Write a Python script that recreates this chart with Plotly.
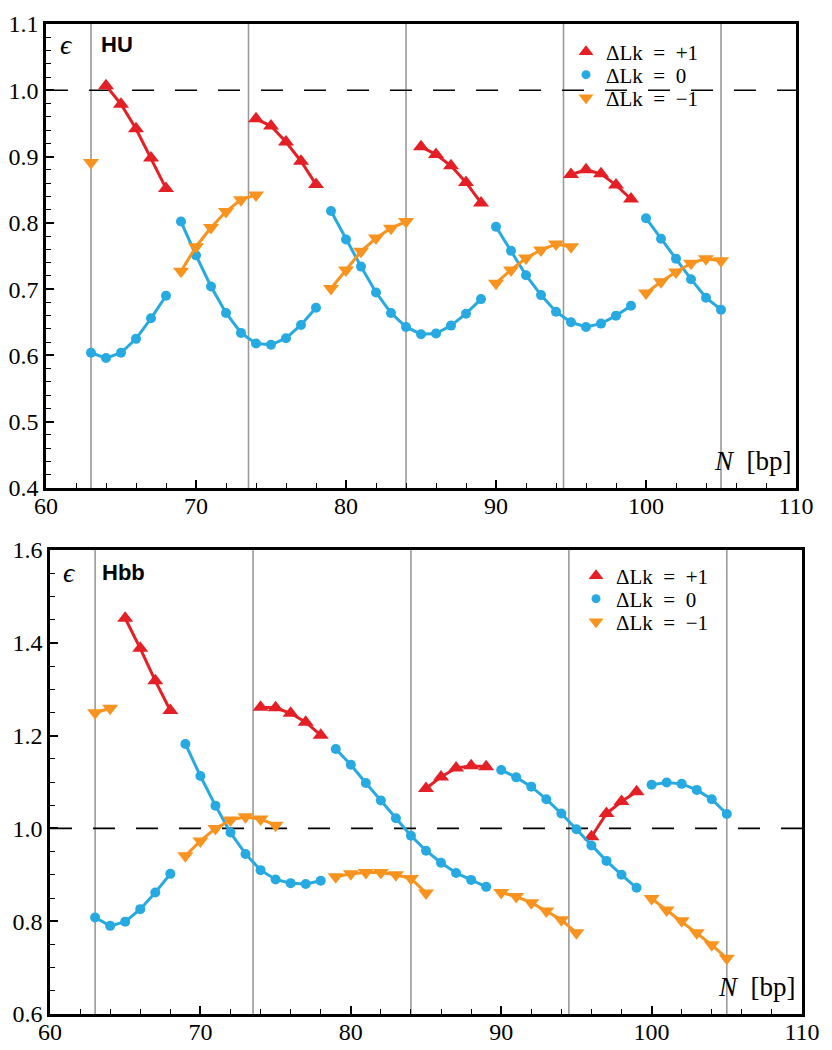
import plotly.graph_objects as go

# ---------------- data ----------------
helix_repeats = [63, 73.5, 84, 94.5, 105]
reference_level = 1.0

# HU panel
hu_plus_x = [64, 65, 66, 67, 68, None, 74, 75, 76, 77, 78, None, 85, 86, 87, 88, 89, None, 95, 96, 97, 98, 99]
hu_plus_y = [1.007, 0.979, 0.942, 0.898, 0.852, None, 0.957, 0.946, 0.922, 0.893, 0.858, None,
             0.915, 0.903, 0.886, 0.861, 0.830, None, 0.873, 0.880, 0.874, 0.857, 0.836]

hu_zero_x = [63, 64, 65, 66, 67, 68, None,
             69, 70, 71, 72, 73, 74, 75, 76, 77, 78, None,
             79, 80, 81, 82, 83, 84, 85, 86, 87, 88, 89, None,
             90, 91, 92, 93, 94, 95, 96, 97, 98, 99, None,
             100, 101, 102, 103, 104, 105]
hu_zero_y = [0.604, 0.596, 0.604, 0.625, 0.656, 0.690, None,
             0.802, 0.751, 0.704, 0.664, 0.634, 0.618, 0.616, 0.626, 0.646, 0.672, None,
             0.818, 0.775, 0.734, 0.695, 0.664, 0.643, 0.632, 0.633, 0.645, 0.663, 0.685, None,
             0.794, 0.758, 0.721, 0.691, 0.666, 0.650, 0.643, 0.648, 0.660, 0.675, None,
             0.807, 0.776, 0.746, 0.715, 0.687, 0.669]

hu_minus_x = [63, None, 69, 70, 71, 72, 73, 74, None, 79, 80, 81, 82, 83, 84, None,
              90, 91, 92, 93, 94, 95, None, 100, 101, 102, 103, 104, 105]
hu_minus_y = [0.891, None, 0.727, 0.764, 0.793, 0.817, 0.835, 0.842, None,
              0.701, 0.729, 0.757, 0.777, 0.792, 0.802, None,
              0.709, 0.729, 0.747, 0.759, 0.768, 0.764, None,
              0.694, 0.711, 0.726, 0.739, 0.746, 0.743]

# Hbb panel
hbb_plus_x = [65, 66, 67, 68, None, 74, 75, 76, 77, 78, None, 85, 86, 87, 88, 89, None, 96, 97, 98, 99]
hbb_plus_y = [1.453, 1.388, 1.318, 1.254, None, 1.261, 1.260, 1.248, 1.229, 1.201, None,
              1.086, 1.111, 1.130, 1.135, 1.133, None, 0.982, 1.032, 1.058, 1.079]

hbb_zero_x = hu_zero_x
hbb_zero_y = [0.808, 0.790, 0.799, 0.826, 0.862, 0.902, None,
              1.182, 1.113, 1.049, 0.991, 0.945, 0.910, 0.890, 0.882, 0.880, 0.887, None,
              1.171, 1.137, 1.098, 1.060, 1.022, 0.984, 0.952, 0.926, 0.904, 0.889, 0.874, None,
              1.126, 1.110, 1.090, 1.063, 1.032, 0.998, 0.963, 0.930, 0.900, 0.872, None,
              1.094, 1.099, 1.096, 1.083, 1.063, 1.031]

hbb_minus_x = [63, 64, None, 69, 70, 71, 72, 73, 74, 75, None, 79, 80, 81, 82, 83, 84, 85, None,
               90, 91, 92, 93, 94, 95, None, 100, 101, 102, 103, 104, 105]
hbb_minus_y = [1.249, 1.259, None, 0.941, 0.973, 1.000, 1.018, 1.025, 1.020, 1.007, None,
               0.896, 0.902, 0.905, 0.905, 0.900, 0.892, 0.861, None,
               0.862, 0.853, 0.840, 0.822, 0.803, 0.775, None,
               0.849, 0.824, 0.801, 0.775, 0.749, 0.720]

series_names = ["ΔLk\u2002=\u2002+1", "ΔLk\u2002=\u20020", "ΔLk\u2002=\u2002−1"]
x_ticks = [60, 70, 80, 90, 100, 110]

# ---------------- style ----------------
RED = "#e41f26"
BLUE = "#27a9e1"
ORANGE = "#f7931e"
SERIF = "Liberation Serif"
SANS = "Liberation Sans"
PAGE_W, PAGE_H = 832, 1050
OFF = 8                      # default page body margin
W, H = PAGE_W - 2 * OFF, PAGE_H - OFF

styles = [
    (RED, "triangle-up", 14),
    (BLUE, "circle", 10),
    (ORANGE, "triangle-down", 14),
]


def px_x(p):
    return (p - OFF) / W


def px_y(p):
    return 1 - (p - OFF) / H


fig = go.Figure()

# legend rows (page pixel positions of each legend entry)
legend_rows = {
    "top": (566, [52, 75, 98]),
    "bottom": (576, [576, 599, 622]),
}

panels = [
    ("x", "y", ["legend", "legend2", "legend3"], "top",
     [(hu_plus_x, hu_plus_y), (hu_zero_x, hu_zero_y), (hu_minus_x, hu_minus_y)]),
    ("x2", "y2", ["legend4", "legend5", "legend6"], "bottom",
     [(hbb_plus_x, hbb_plus_y), (hbb_zero_x, hbb_zero_y), (hbb_minus_x, hbb_minus_y)]),
]

legend_layout = {}
for xa, ya, lgs, key, data in panels:
    for (xs, ys), (col, sym, sz), name in zip(data, styles, series_names):
        fig.add_trace(go.Scatter(
            x=xs, y=ys, xaxis=xa, yaxis=ya, mode="lines+markers",
            line=dict(color=col, width=3), connectgaps=False,
            marker=dict(color=col, symbol=sym, size=sz, line=dict(width=0)),
            showlegend=False, hoverinfo="skip"))
    lx, lys = legend_rows[key]
    for (col, sym, sz), name, lg, ly in zip(styles, series_names, lgs, lys):
        fig.add_trace(go.Scatter(
            x=[None], y=[None], xaxis=xa, yaxis=ya, mode="markers",
            marker=dict(color=col, symbol=sym, size=sz - 1),
            name=name, legend=lg, showlegend=True))
        legend_layout[lg] = dict(x=px_x(lx), y=px_y(ly), xanchor="left", yanchor="middle",
                                 bgcolor="rgba(0,0,0,0)", borderwidth=0,
                                 font=dict(family=SERIF, size=21, color="black"),
                                 itemsizing="trace")

# reference lines
for xa, ya in [("x", "y"), ("x2", "y2")]:
    for xv in helix_repeats:
        fig.add_shape(type="line", xref=xa, yref=f"{ya} domain", x0=xv, x1=xv, y0=0, y1=1,
                      line=dict(color="#9a9a9a", width=1.6), layer="below")
    fig.add_shape(type="line", xref=f"{xa} domain", yref=ya, x0=0, x1=1,
                  y0=reference_level, y1=reference_level,
                  line=dict(color="black", width=1.6, dash="22px,21px"), layer="below")


def xaxis_style(domain, anchor):
    return dict(domain=domain, anchor=anchor, range=[60, 110], tickvals=x_ticks,
                showline=True, linecolor="black", linewidth=2.5, mirror=True,
                ticks="inside", ticklen=8, tickwidth=1.5, tickcolor="black",
                minor=dict(ticks="inside", dtick=2, ticklen=5, tickwidth=1.2, tickcolor="black"),
                showgrid=False, zeroline=False, automargin=False, ticklabelstandoff=-6,
                tickfont=dict(family=SERIF, size=24, color="black"))


def yaxis_style(domain, anchor, rng, dtick, mdtick):
    return dict(domain=domain, anchor=anchor, range=rng, dtick=dtick, tick0=0, tickformat=".1f",
                showline=True, linecolor="black", linewidth=2.5, mirror=True,
                ticks="inside", ticklen=8, tickwidth=1.5, tickcolor="black",
                minor=dict(ticks="inside", dtick=mdtick, ticklen=5, tickwidth=1.2, tickcolor="black"),
                showgrid=False, zeroline=False, automargin=False,
                tickfont=dict(family=SERIF, size=24, color="black"))


fig.update_layout(
    width=W, height=H, margin=dict(l=0, r=0, t=0, b=0, autoexpand=False),
    paper_bgcolor="white", plot_bgcolor="white",
    xaxis=xaxis_style([px_x(46), px_x(796)], "y"),
    yaxis=yaxis_style([px_y(488), px_y(24)], "x", [0.4, 1.1], 0.1, 0.02),
    xaxis2=xaxis_style([px_x(50), px_x(802)], "y2"),
    yaxis2=yaxis_style([px_y(1014), px_y(550)], "x2", [0.6, 1.6], 0.2, 0.05),
    showlegend=True,
    **legend_layout,
)

annots = [
    ("<i>ϵ</i>", 66, 45, SERIF, 28, "center"),
    ("<b>HU</b>", 99, 45, SANS, 22, "left"),
    ("<i>N</i>  [bp]", 794, 461, SERIF, 27, "right"),
    ("<i>ϵ</i>", 70, 572, SERIF, 28, "center"),
    ("<b>Hbb</b>", 100, 572, SANS, 22, "left"),
    ("<i>N</i>  [bp]", 798, 987, SERIF, 27, "right"),
]
for txt, ax_, ay_, fam, sz, anc in annots:
    fig.add_annotation(text=txt, xref="paper", yref="paper", x=px_x(ax_), y=px_y(ay_),
                       xanchor=anc, yanchor="middle", showarrow=False,
                       font=dict(family=fam, size=sz, color="black"))

fig.write_html("out.html")
